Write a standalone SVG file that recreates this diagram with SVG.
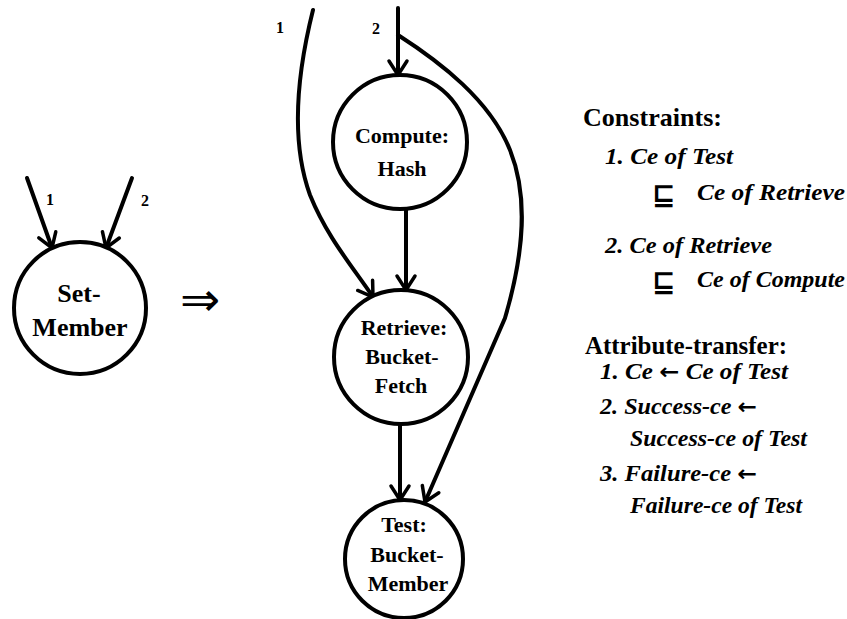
<svg xmlns="http://www.w3.org/2000/svg" width="847" height="619" viewBox="0 0 847 619">
<style>
.node{fill:#fff;stroke:#000;stroke-width:4}
.lbl{font-family:"Liberation Serif",serif;font-weight:bold;font-size:22px;text-anchor:middle;fill:#000}
.big{font-size:26px}
.num{font-family:"Liberation Serif",serif;font-weight:bold;font-size:16px;fill:#000}
.edge{fill:none;stroke:#000;stroke-width:4;stroke-linecap:round;marker-end:url(#ah)}
.head{font-family:"Liberation Serif",serif;font-weight:bold;font-size:25px;fill:#000}
.it{font-family:"Liberation Serif",serif;font-weight:bold;font-style:italic;font-size:23px;fill:#000}
.arr{font-family:"DejaVu Sans",sans-serif;font-style:normal;font-weight:bold;font-size:22px}
.sym{font-family:"DejaVu Sans",sans-serif;font-weight:bold;font-size:28px;fill:#000}
</style>
<defs>
<marker id="ah" markerUnits="userSpaceOnUse" orient="auto" overflow="visible" markerWidth="30" markerHeight="30" refX="0" refY="0">
<path d="M-14,-9 L0,0 L-14,9" fill="none" stroke="#000" stroke-width="3.5" stroke-linecap="round"/>
</marker>
</defs>
<g id="connectors">
<path class="edge" d="M27,178 L52,248"/>
<path class="edge" d="M132,178 L106,248"/>
<path class="edge" d="M398,8 L398,75"/>
<path class="edge" d="M313,10 C298,70 290,140 310,195 C327,237 352,266 373,297"/>
<path class="edge" d="M406,209 L406,290"/>
<path class="edge" d="M400,424 L400,500"/>
<path class="edge" d="M398,35 C440,62 490,100 510,150 C528,195 525,250 505,318 L425,502"/>
<text class="num" x="46" y="205">1</text>
<text class="num" x="141" y="206">2</text>
<text class="num" x="276" y="33">1</text>
<text class="num" x="372" y="34">2</text>
</g>
<g id="set-member">
<circle class="node" cx="80" cy="308" r="66"/>
<text class="lbl big" x="79" y="302">Set-</text>
<text class="lbl big" x="80" y="336">Member</text>
</g>
<g id="implies">
<text x="180" y="316" font-family="DejaVu Sans, sans-serif" font-size="48" fill="#000">⇒</text>
</g>
<g id="compute">
<circle class="node" cx="400" cy="142" r="67"/>
<text class="lbl" x="402" y="143">Compute:</text>
<text class="lbl" x="402" y="176">Hash</text>
</g>
<g id="retrieve">
<circle class="node" cx="401" cy="357" r="67"/>
<text class="lbl" x="404" y="335">Retrieve:</text>
<text class="lbl" x="402" y="364">Bucket-</text>
<text class="lbl" x="401" y="393">Fetch</text>
</g>
<g id="test">
<circle class="node" cx="404" cy="559" r="59"/>
<text class="lbl" x="404" y="532">Test:</text>
<text class="lbl" x="407" y="562">Bucket-</text>
<text class="lbl" x="408" y="591">Member</text>
</g>
<g id="notes">
<text class="head" x="583" y="126" textLength="139" lengthAdjust="spacingAndGlyphs">Constraints:</text>
<text class="it" x="605" y="164" textLength="128" lengthAdjust="spacingAndGlyphs">1. Ce of Test</text>
<text class="sym" x="652" y="204">⊑</text>
<text class="it" x="697" y="200" textLength="148" lengthAdjust="spacingAndGlyphs">Ce of Retrieve</text>
<text class="it" x="605" y="253" textLength="167" lengthAdjust="spacingAndGlyphs">2. Ce of Retrieve</text>
<text class="sym" x="652" y="291">⊑</text>
<text class="it" x="697" y="287" textLength="148" lengthAdjust="spacingAndGlyphs">Ce of Compute</text>
<text class="head" x="585" y="354" textLength="202" lengthAdjust="spacingAndGlyphs">Attribute-transfer:</text>
<text class="it" x="600" y="379" textLength="188" lengthAdjust="spacingAndGlyphs">1. Ce <tspan class="arr">←</tspan> Ce of Test</text>
<text class="it" x="600" y="414" textLength="157" lengthAdjust="spacingAndGlyphs">2. Success-ce <tspan class="arr">←</tspan></text>
<text class="it" x="630" y="446" textLength="177" lengthAdjust="spacingAndGlyphs">Success-ce of Test</text>
<text class="it" x="600" y="481" textLength="157" lengthAdjust="spacingAndGlyphs">3. Failure-ce <tspan class="arr">←</tspan></text>
<text class="it" x="630" y="513" textLength="172" lengthAdjust="spacingAndGlyphs">Failure-ce of Test</text>
</g>
</svg>
